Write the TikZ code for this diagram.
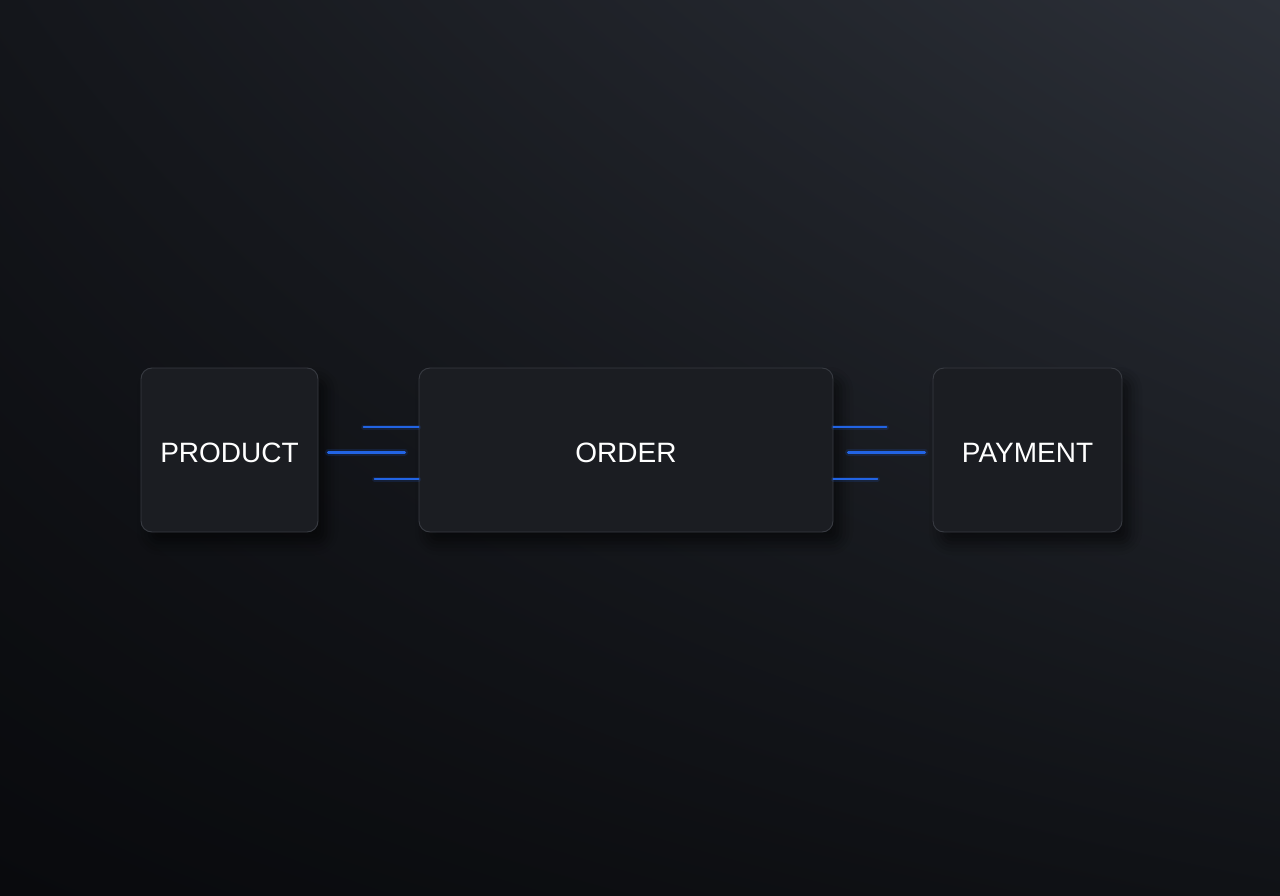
\documentclass[tikz,border=0pt]{standalone}
\usepackage{fontspec}
\setmainfont{Liberation Sans}
\usetikzlibrary{calc,shadows.blur,shadings}
\definecolor{bgUL}{RGB}{20,22,27}
\definecolor{bgUR}{RGB}{44,48,56}
\definecolor{bgLL}{RGB}{9,10,13}
\definecolor{bgLR}{RGB}{16,18,22}
\definecolor{boxfill}{RGB}{27,29,34}
\definecolor{boxedge}{RGB}{56,59,66}
\definecolor{linkblue}{RGB}{34,100,228}
\begin{document}
\begin{tikzpicture}[x=1pt,y=-1pt,
  entity/.style={draw=boxedge, line width=0.9pt, fill=boxfill, rounded corners=11pt,
    minimum height=164pt, inner sep=0pt, text=white, font=\fontsize{28}{30}\selectfont,
    text height=24pt, text depth=0pt,
    blur shadow={shadow xshift=8pt, shadow yshift=-11pt, shadow blur radius=12pt, shadow opacity=55}},
  link/.style={draw=linkblue, line width=2pt, line cap=round},
  linkmain/.style={draw=linkblue, line width=3pt, line cap=round},
  glow/.style={draw=linkblue, line width=7pt, line cap=round, opacity=0.15}]
\useasboundingbox (0,0) rectangle (1280,896);
\shade[upper left=bgUL, upper right=bgUR, lower left=bgLL, lower right=bgLR] (0,896) rectangle (1280,0);

\node[entity, minimum width=177pt] (product) at (229.5,450) {PRODUCT};
\node[entity, minimum width=414pt] (order) at (626,450) {ORDER};
\node[entity, minimum width=189pt] (payment) at (1027.5,450) {PAYMENT};

% left links
\coordinate (l1a) at ($(order.west)+(-55,-23)$);
\coordinate (l1b) at ($(order.west)+(0,-23)$);
\coordinate (l2a) at ($(product.east)+(10,2)$);
\coordinate (l2b) at ($(order.west)+(-14,2)$);
\coordinate (l3a) at ($(order.west)+(-44,29)$);
\coordinate (l3b) at ($(order.west)+(0,29)$);
% right links
\coordinate (r1a) at ($(order.east)+(0,-23)$);
\coordinate (r1b) at ($(order.east)+(53,-23)$);
\coordinate (r2a) at ($(order.east)+(15,2)$);
\coordinate (r2b) at ($(payment.west)+(-8,2)$);
\coordinate (r3a) at ($(order.east)+(0,29)$);
\coordinate (r3b) at ($(order.east)+(44,29)$);

\foreach \a/\b in {l1a/l1b,l3a/l3b,r1a/r1b,r3a/r3b}{
  \draw[glow, line width=5pt] (\a) -- (\b);
  \draw[link] (\a) -- (\b);
}
\foreach \a/\b in {l2a/l2b,r2a/r2b}{
  \draw[glow] (\a) -- (\b);
  \draw[linkmain] (\a) -- (\b);
}
\end{tikzpicture}
\end{document}
